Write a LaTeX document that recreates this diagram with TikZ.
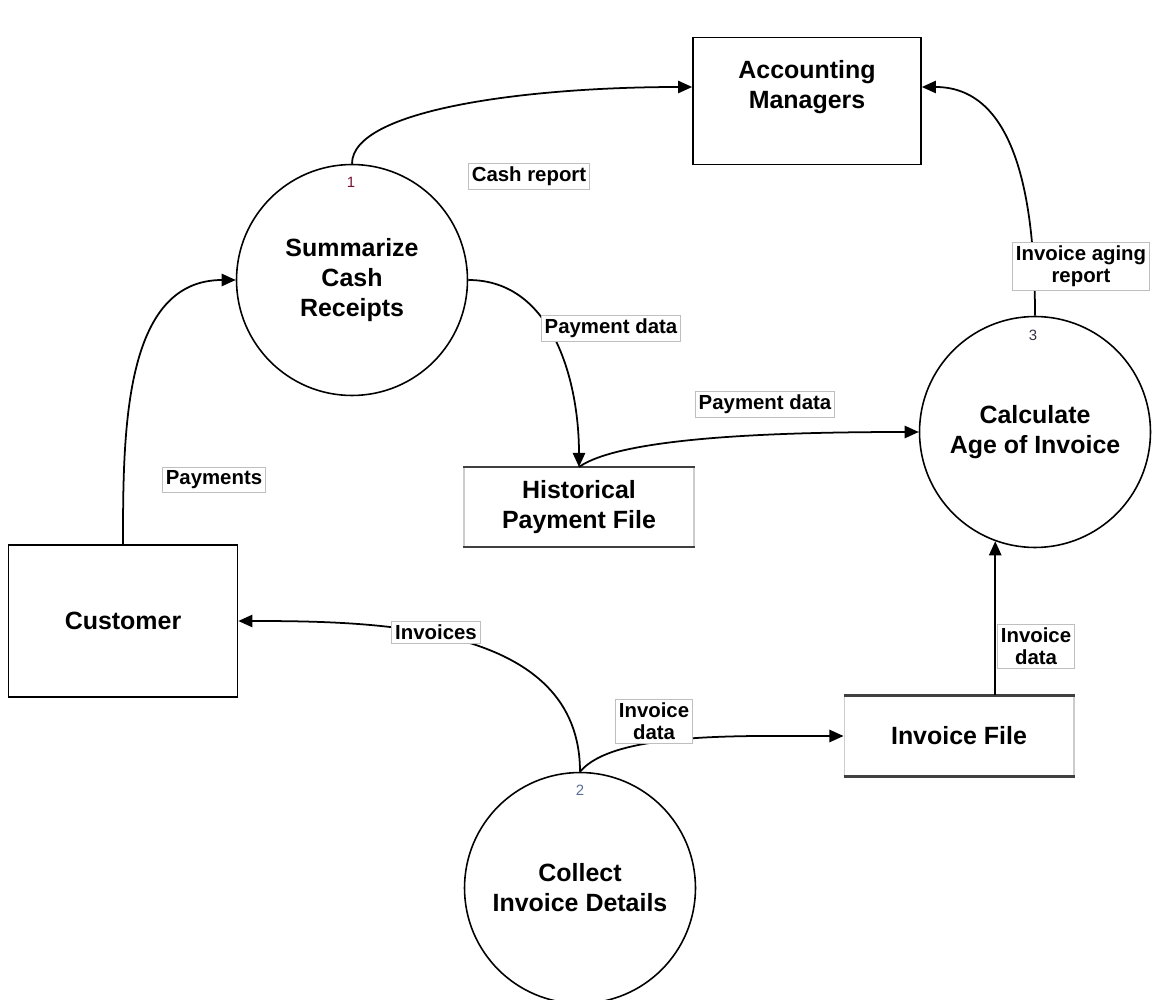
\documentclass[tikz,border=0pt]{standalone}
\usepackage{fontspec}
\setmainfont{Liberation Sans}
\usetikzlibrary{arrows.meta}

\begin{document}
\begin{tikzpicture}[x=0.02cm, y=-0.02cm,
    process/.style={draw, circle, line width=0.9pt, minimum size=4.62cm, inner sep=0pt,
      align=center, font=\fontsize{14.2}{17}\selectfont\bfseries},
    entity/.style={draw, line width=1pt, inner sep=0pt, align=center,
      font=\fontsize{14.2}{17}\selectfont\bfseries},
    store/.style={draw=black!20, line width=0.6pt, minimum width=4.6cm, minimum height=1.6cm,
      inner sep=0pt, align=center, font=\fontsize{14.2}{17}\selectfont\bfseries},
    flow/.style={-{Triangle[length=8pt,width=7pt]}, line width=1pt},
    flowlabel/.style={fill=white, draw=black!25, line width=0.5pt, inner sep=2pt, align=center,
      font=\fontsize{11.6}{12.5}\selectfont\bfseries},
    procnum/.style={font=\fontsize{8.5}{10}\selectfont}
  ]
  \useasboundingbox (0,0) rectangle (1154,1000);

  % external entities
  \node[entity, minimum width=4.56cm, minimum height=2.54cm] (accmgr) at (807,101) {};
  \node[font=\fontsize{14.2}{17}\selectfont\bfseries, align=center] (amtext) at (807,87) {Accounting\\Managers};
  \node[entity, minimum width=4.58cm, minimum height=3.04cm] (customer) at (123,621) {Customer};

  % processes
  \node[process] (sumcash) at (352,280) {Summarize\\Cash\\Receipts};
  \node[process] (collect) at (580,888) {Collect\\Invoice Details};
  \node[process] (calcage) at (1035,432) {Calculate\\Age of Invoice};
  \node[procnum, text={rgb,255:red,120;green,20;blue,50}] (num1) at (351,182) {1};
  \node[procnum, text={rgb,255:red,90;green,110;blue,150}] (num2) at (580,790) {2};
  \node[procnum, text={rgb,255:red,50;green,50;blue,70}] (num3) at (1033,335) {3};

  % data stores
  \node[store, minimum height=1.58cm] (histfile) at (579,507) {Historical\\Payment File};
  \node[store] (invfile) at (959,736) {Invoice File};
  \foreach \s in {histfile, invfile}
    \draw[line width=1.5pt, black!75] (\s.north west) -- (\s.north east)
      (\s.south west) -- (\s.south east);

  % flows
  \draw[flow] (customer.north) to[out=90, in=180] (sumcash.west);
  \draw[flow] (sumcash.north) to[out=90, in=180, out looseness=0.4, in looseness=1.2] (accmgr.west |- amtext);
  \draw[flow] (sumcash.east) to[out=0, in=90] (histfile.north);
  \draw[flow] (histfile.north) to[out=35, in=180, out looseness=0.4] (calcage.west);
  \draw[flow] (collect.north) to[out=90, in=0] (customer.east);
  \draw[flow] (collect.north) to[out=50, in=180, out looseness=0.5] (invfile.west);
  \draw[flow] (calcage.250 |- invfile.north) -- (calcage.250);
  \draw[flow] (calcage.north) to[out=90, in=0] (accmgr.east |- amtext);

  % flow labels
  \node[flowlabel] (lcash) at (529,176) {Cash report};
  \node[flowlabel] (lpay1) at (611,328) {Payment data};
  \node[flowlabel] (lpay2) at (765,404) {Payment data};
  \node[flowlabel] (lpayments) at (214,480) {Payments};
  \node[flowlabel] (linvoices) at (436,632) {Invoices};
  \node[flowlabel] (linvdata1) at (654,721) {Invoice\\data};
  \node[flowlabel] (linvdata2) at (1036,646) {Invoice\\data};
  \node[flowlabel] (laging) at (1081,266) {Invoice aging\\report};
\end{tikzpicture}
\end{document}
